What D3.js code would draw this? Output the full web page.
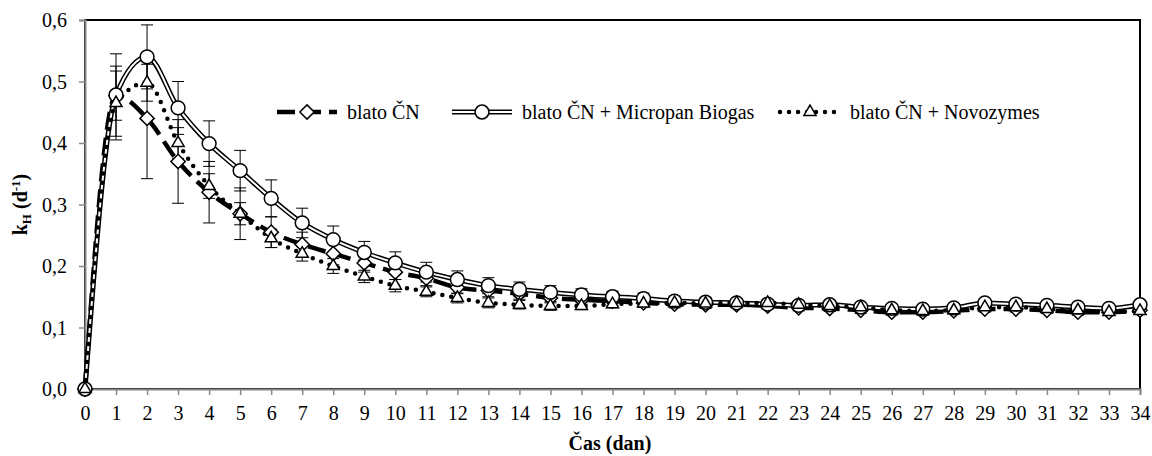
<!DOCTYPE html>
<html><head><meta charset="utf-8">
<script src="https://cdn.jsdelivr.net/npm/d3@7"></script>
<style>body{margin:0;background:#fff}svg{display:block}</style>
</head><body><svg id="c" width="1152" height="456"></svg>
<script>
const FONT = "'Liberation Serif'";
const days = d3.range(0, 35);
const yTicks = [0, 0.1, 0.2, 0.3, 0.4, 0.5, 0.6];
const seriesNames = ["blato ČN", "blato ČN + Micropan Biogas", "blato ČN + Novozymes"];
const valsCN = [0,0.477,0.44,0.37,0.32,0.285,0.255,0.235,0.22,0.205,0.19,0.18,0.165,0.16,0.155,0.148,0.145,0.143,0.14,0.138,0.137,0.137,0.135,0.132,0.131,0.128,0.125,0.125,0.127,0.13,0.13,0.128,0.125,0.125,0.128];
const valsMB = [0,0.478,0.54,0.457,0.399,0.355,0.31,0.27,0.243,0.222,0.205,0.19,0.178,0.168,0.162,0.157,0.153,0.15,0.147,0.143,0.141,0.14,0.138,0.136,0.137,0.133,0.131,0.13,0.132,0.14,0.138,0.136,0.133,0.131,0.137];
const valsNZ = [0,0.465,0.498,0.4,0.33,0.285,0.245,0.22,0.2,0.183,0.168,0.158,0.148,0.14,0.137,0.135,0.135,0.138,0.139,0.14,0.139,0.14,0.14,0.137,0.135,0.133,0.128,0.127,0.128,0.133,0.133,0.13,0.128,0.125,0.127];
const errCN = [0,0.04,0.098,0.068,0.05,0.042,0.025,0.02,0.018,0.015,0.012,0.012,0.01,0.01,0.009,0.008,0.007,0.007,0.006,0.006,0.006,0.005,0.005,0.005,0.005,0.005,0.005,0.005,0.005,0.005,0.005,0.005,0.005,0.005,0.005];
const errMB = [0,0.067,0.052,0.043,0.037,0.033,0.03,0.024,0.022,0.018,0.018,0.016,0.014,0.013,0.012,0.011,0.01,0.009,0.009,0.008,0.008,0.007,0.007,0.007,0.006,0.006,0.006,0.006,0.006,0.006,0.006,0.005,0.005,0.005,0.005];
const errNZ = [0,0.06,0.03,0.025,0.02,0.018,0.015,0.012,0.012,0.01,0.01,0.008,0.008,0.008,0.007,0.007,0.006,0.006,0.006,0.006,0.005,0.005,0.005,0.005,0.005,0.005,0.005,0.005,0.005,0.005,0.005,0.005,0.005,0.005,0.005];

const svg = d3.select("#c");
const L = 85, R = 1140, T = 20, B = 389;
const FS = "20px";
const x = d3.scaleLinear().domain([0, 34]).range([L, R]);
const y = d3.scaleLinear().domain([0, 0.6]).range([B, T]);

svg.append("rect").attr("x", L).attr("y", T).attr("width", R - L).attr("height", B - T)
  .attr("fill", "none").attr("stroke", "#000").attr("stroke-width", 2);

const yAx = svg.append("g").attr("transform", `translate(${L},0)`)
  .call(d3.axisLeft(y).tickValues(yTicks).tickSize(6).tickFormat(d => d3.format(".1f")(d).replace(".", ",")));
const xAx = svg.append("g").attr("transform", `translate(0,${B})`)
  .call(d3.axisBottom(x).tickValues(days).tickSize(6).tickFormat(d => d));
[yAx, xAx].forEach(g => {
  g.select(".domain").attr("stroke", "#888").attr("stroke-width", 2);
  g.selectAll(".tick line").attr("stroke", "#888").attr("stroke-width", 1.5);
  g.selectAll("text").style("font-size", FS).style("font-family", FONT).attr("fill", "#000");
});
yAx.selectAll("text").attr("dx", "-9").attr("dy", "0.34em");
xAx.selectAll("text").attr("dy", "1.1em");

svg.append("text").attr("x", 610).attr("y", 450).attr("text-anchor", "middle")
  .style("font-family", FONT).style("font-size", FS).style("font-weight", "bold").text("Čas (dan)");
const yt = svg.append("text").attr("transform", `translate(27,${(T + B) / 2}) rotate(-90)`)
  .attr("text-anchor", "middle").style("font-family", FONT).style("font-size", FS).style("font-weight", "bold");
yt.append("tspan").text("k");
yt.append("tspan").style("font-size", "13px").attr("dy", 4).text("H");
yt.append("tspan").attr("dy", -4).text(" (d");
yt.append("tspan").style("font-size", "13px").attr("dy", -7).text("-1");
yt.append("tspan").attr("dy", 7).text(")");

const series = [
  {vals: valsCN, err: errCN, marker: "diamond"},
  {vals: valsMB, err: errMB, marker: "circle"},
  {vals: valsNZ, err: errNZ, marker: "triangle"}
];

const eb = svg.append("g").attr("stroke", "#000").attr("stroke-width", 1);
series.forEach(s => {
  days.forEach(d => {
    if (s.err[d] <= 0) return;
    const cx = x(d), y0 = y(s.vals[d] - s.err[d]), y1 = y(s.vals[d] + s.err[d]);
    eb.append("line").attr("x1", cx).attr("x2", cx).attr("y1", y0).attr("y2", y1);
    eb.append("line").attr("x1", cx - 6).attr("x2", cx + 6).attr("y1", y0).attr("y2", y0);
    eb.append("line").attr("x1", cx - 6).attr("x2", cx + 6).attr("y1", y1).attr("y2", y1);
  });
});

const line = d3.line().x((v, i) => x(days[i])).y(v => y(v)).curve(d3.curveMonotoneX);

function drawStyle(g, type, path) {
  if (type === "diamond") {
    g.append("path").attr("d", path).attr("fill", "none").attr("stroke", "#000")
      .attr("stroke-width", 4.5).attr("stroke-dasharray", "18,8");
  } else if (type === "circle") {
    g.append("path").attr("d", path).attr("fill", "none").attr("stroke", "#000").attr("stroke-width", 5);
    g.append("path").attr("d", path).attr("fill", "none").attr("stroke", "#fff").attr("stroke-width", 2);
  } else {
    g.append("path").attr("d", path).attr("fill", "none").attr("stroke", "#000")
      .attr("stroke-width", 4.5).attr("stroke-linecap", "round").attr("stroke-dasharray", "0,9");
  }
}
const sym = {
  diamond: d3.symbol().type(d3.symbolDiamond2).size(130),
  circle: d3.symbol().type(d3.symbolCircle).size(150),
  triangle: d3.symbol().type(d3.symbolTriangle2).size(105)
};
function drawMarker(g, type, cx, cy) {
  g.append("path").attr("d", sym[type]()).attr("transform", `translate(${cx},${cy})`)
    .attr("fill", "#fff").attr("stroke", "#000").attr("stroke-width", 1.5);
}

series.forEach(s => drawStyle(svg.append("g"), s.marker, line(s.vals)));
series.forEach(s => {
  const g = svg.append("g");
  days.forEach(d => drawMarker(g, s.marker, x(d), y(s.vals[d])));
});

const legX = [277, 452, 780];
const legW = 60;
series.forEach((s, i) => {
  const g = svg.append("g");
  const ly = 112;
  drawStyle(g, s.marker, `M${legX[i]},${ly}H${legX[i] + legW}`);
  drawMarker(g, s.marker, legX[i] + legW / 2, ly);
  g.append("text").attr("x", legX[i] + legW + 10).attr("y", ly + 7)
    .style("font-family", FONT).style("font-size", FS).text(seriesNames[i]);
});
</script></body></html>
